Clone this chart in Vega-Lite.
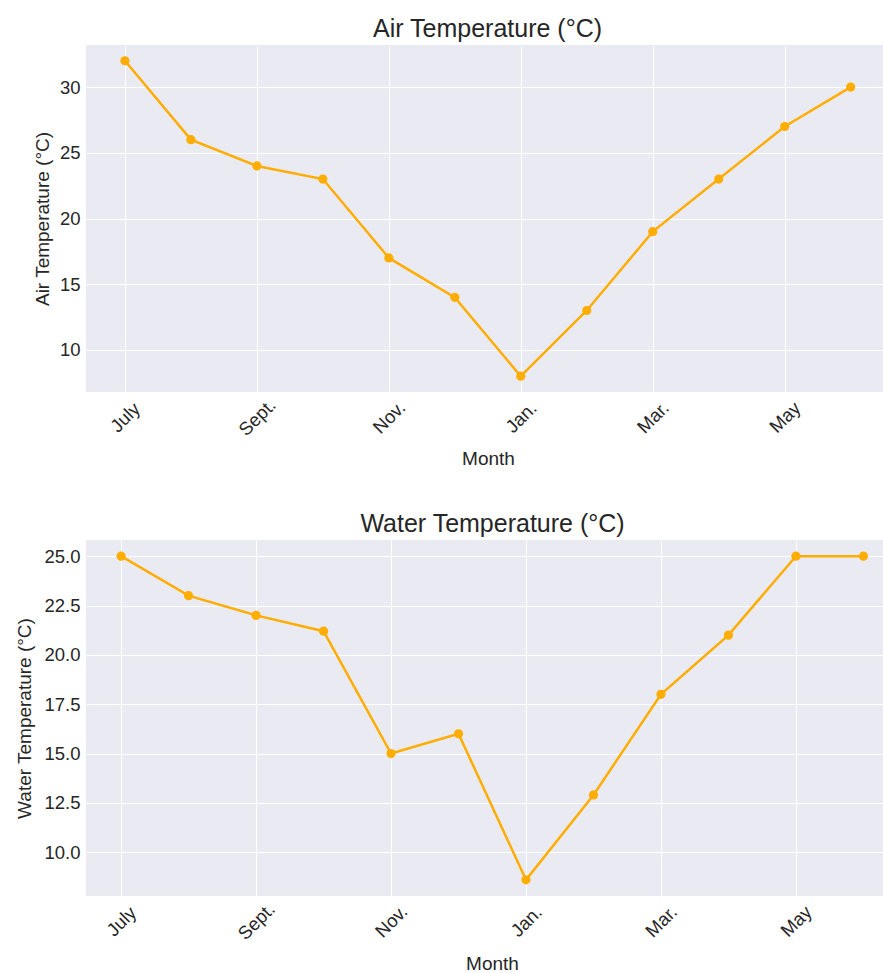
{
  "$schema": "https://vega.github.io/schema/vega-lite/v6.json",
  "padding": {"left": 15, "top": 17, "right": 0, "bottom": 0},
  "background": "white",
  "datasets": {
    "temps": [
      {"i": 0, "month": "July", "air": 32, "water": 25},
      {"i": 1, "month": "Aug.", "air": 26, "water": 23},
      {"i": 2, "month": "Sept.", "air": 24, "water": 22},
      {"i": 3, "month": "Oct.", "air": 23, "water": 21.2},
      {"i": 4, "month": "Nov.", "air": 17, "water": 15},
      {"i": 5, "month": "Dec.", "air": 14, "water": 16},
      {"i": 6, "month": "Jan.", "air": 8, "water": 8.6},
      {"i": 7, "month": "Feb.", "air": 13, "water": 12.9},
      {"i": 8, "month": "Mar.", "air": 19, "water": 18},
      {"i": 9, "month": "Apr.", "air": 23, "water": 21},
      {"i": 10, "month": "May", "air": 27, "water": 25},
      {"i": 11, "month": "June", "air": 30, "water": 25}
    ]
  },
  "bounds": "flush",
  "spacing": 148,
  "vconcat": [
    {
      "width": 797,
      "height": 347,
      "data": {"name": "temps"},
      "title": {"text": "Air Temperature (°C)", "dx": 3},
      "encoding": {
        "x": {
          "field": "i", "type": "quantitative",
          "scale": {"domain": [-0.59, 11.49], "nice": false, "zero": false},
          "axis": {
            "values": [0, 2, 4, 6, 8, 10],
            "labelExpr": "['July','Aug.','Sept.','Oct.','Nov.','Dec.','Jan.','Feb.','Mar.','Apr.','May','June'][datum.value]",
            "title": "Month",
            "titleX": 402,
            "titleY": 66,
            "titleBaseline": "middle"
          }
        },
        "y": {
          "field": "air", "type": "quantitative",
          "scale": {"domain": [6.8, 33.2], "nice": false, "zero": false},
          "axis": {"values": [10, 15, 20, 25, 30], "title": "Air Temperature (°C)", "titlePadding": 7}
        }
      },
      "layer": [
        {"mark": {"type": "line", "color": "#FFAD00", "strokeWidth": 2.5}},
        {"mark": {"type": "point", "filled": true, "color": "#FFAD00", "opacity": 1, "size": 85}}
      ]
    },
    {
      "width": 797,
      "height": 356,
      "data": {"name": "temps"},
      "title": {"text": "Water Temperature (°C)", "dx": 8},
      "encoding": {
        "x": {
          "field": "i", "type": "quantitative",
          "scale": {"domain": [-0.52, 11.29], "nice": false, "zero": false},
          "axis": {
            "values": [0, 2, 4, 6, 8, 10],
            "labelExpr": "['July','Aug.','Sept.','Oct.','Nov.','Dec.','Jan.','Feb.','Mar.','Apr.','May','June'][datum.value]",
            "title": "Month",
            "titleX": 406,
            "titleY": 67,
            "titleBaseline": "middle"
          }
        },
        "y": {
          "field": "water", "type": "quantitative",
          "scale": {"domain": [7.78, 25.82], "nice": false, "zero": false},
          "axis": {"values": [10, 12.5, 15, 17.5, 20, 22.5, 25], "format": ".1f", "title": "Water Temperature (°C)", "titlePadding": 9}
        }
      },
      "layer": [
        {"mark": {"type": "line", "color": "#FFAD00", "strokeWidth": 2.5}},
        {"mark": {"type": "point", "filled": true, "color": "#FFAD00", "opacity": 1, "size": 85}}
      ]
    }
  ],
  "config": {
    "font": "Liberation Sans",
    "view": {"fill": "#EAEAF2", "stroke": null},
    "title": {"fontSize": 25, "fontWeight": "normal", "color": "#262626", "offset": 3, "anchor": "middle"},
    "axis": {
      "domain": false,
      "ticks": false,
      "grid": true,
      "gridColor": "#FFFFFF",
      "gridWidth": 1,
      "gridOpacity": 1,
      "labelFont": "Liberation Sans",
      "labelFontSize": 18.5,
      "labelColor": "#262626",
      "titleFont": "Liberation Sans",
      "titleFontSize": 19,
      "titleFontWeight": "normal",
      "titleColor": "#262626",
      "labelPadding": 6
    },
    "axisX": {"labelAngle": -45, "labelAlign": "center", "labelBaseline": "middle", "labelPadding": 25, "labelOverlap": false},
    "axisY": {"labelOverlap": false}
  }
}
